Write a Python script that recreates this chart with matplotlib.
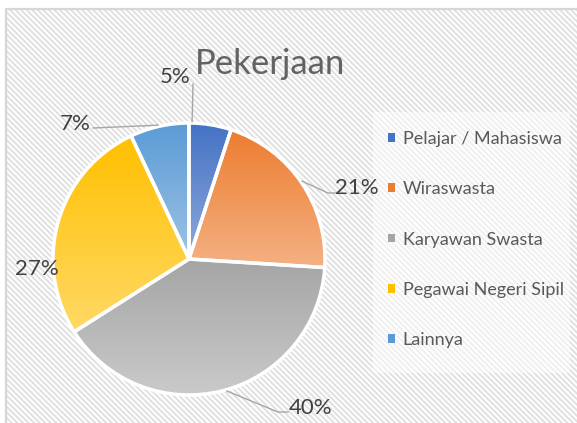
import numpy as np
import matplotlib.pyplot as plt
from matplotlib.colors import LinearSegmentedColormap
from matplotlib.patches import Rectangle, Patch

plt.rcParams['font.family'] = ['Lato', 'DejaVu Sans']
plt.rcParams['hatch.linewidth'] = 1.4

categories = ['Pelajar / Mahasiswa', 'Wiraswasta', 'Karyawan Swasta',
              'Pegawai Negeri Sipil', 'Lainnya']
percent = [5, 21, 40, 27, 7]
pct_labels = ['5%', '21%', '40%', '27%', '7%']

# gradient fill: top colour -> bottom colour of every slice
top_colors = ['#4472C4', '#ED7D31', '#A5A5A5', '#FFC000', '#5B9BD5']
bottom_colors = ['#8FAADC', '#F4B183', '#CACACA', '#FFD966', '#9DC3E6']

W, H = 577, 423


def py(y):
    # pixel row (from top) -> data y
    return H - y


fig = plt.figure(figsize=(W / 100, H / 100), dpi=100)
ax = fig.add_axes([0, 0, 1, 1])

# striped chart area + border
ax.add_patch(Rectangle((6, -5), W, py(9) + 5, facecolor='white', edgecolor='#E0E0E0',
                       hatch='\\' * 6, linewidth=0, zorder=0))
ax.plot([5.5, 5.5, W + 5], [-5, py(8.5), py(8.5)], color='#D6D6D6', lw=1.6, zorder=1)
# lighter legend backdrop
ax.add_patch(Rectangle((373, py(373)), 197, 261, facecolor='white', alpha=0.5,
                       edgecolor='none', zorder=1))

cx, cy, r = 189, py(259), 136
wedges, _ = ax.pie(percent, startangle=90, counterclock=False, center=(cx, cy), radius=r,
                   colors=top_colors, frame=True,
                   wedgeprops=dict(edgecolor='white', linewidth=2.5))

grad = np.linspace(0, 1, 256).reshape(-1, 1)
for w, c0, c1 in zip(wedges, top_colors, bottom_colors):
    bb = w.get_path().get_extents()
    cmap = LinearSegmentedColormap.from_list('g', [c0, c1])
    im = ax.imshow(grad, cmap=cmap, extent=(bb.x0, bb.x1, bb.y0, bb.y1), origin='upper',
                   aspect='auto', interpolation='bilinear', zorder=2)
    im.set_clip_path(w)
    w.set_facecolor('none')
    w.set_zorder(3)

# data labels (Excel moved them by hand)
label_pos = [(175, 83), (357, 194), (311, 414), (36.5, 275), (75.5, 130)]
leader_start = [[(193, 84)], [(336, 193), (328, 193)], [(288, 412), (278, 412)], None, [(93, 128)]]
anchor_deg = [88.7, 34.5, -74, None, 103]

for lab, (lx, ly), pts, ang in zip(pct_labels, label_pos, leader_start, anchor_deg):
    ax.text(lx, py(ly), lab, fontsize=16, color='#404040', ha='center', va='baseline', zorder=5)
    if pts is None:
        continue
    xs = [p[0] for p in pts] + [cx + 1.01 * r * np.cos(np.radians(ang))]
    ys = [py(p[1]) for p in pts] + [cy + 1.01 * r * np.sin(np.radians(ang))]
    ax.plot(xs, ys, color='#A6A6A6', lw=1, zorder=4)

ax.text(270, py(74), 'Pekerjaan', fontsize=25, color='#636363',
        ha='center', va='baseline', zorder=5)

handles = [Patch(facecolor=c, edgecolor='none') for c in top_colors]
ax.legend(handles, categories, loc='center left', bbox_to_anchor=(372 / W, 1 - 239.5 / H),
          frameon=False, fontsize=13, labelcolor='#595959', handlelength=0.35,
          handleheight=0.35, handletextpad=0.45, labelspacing=1.9, borderpad=0.4)

ax.set_xlim(0, W)
ax.set_ylim(0, H)
ax.set_aspect('auto')
ax.axis('off')

fig.savefig('out.png', dpi=100)
